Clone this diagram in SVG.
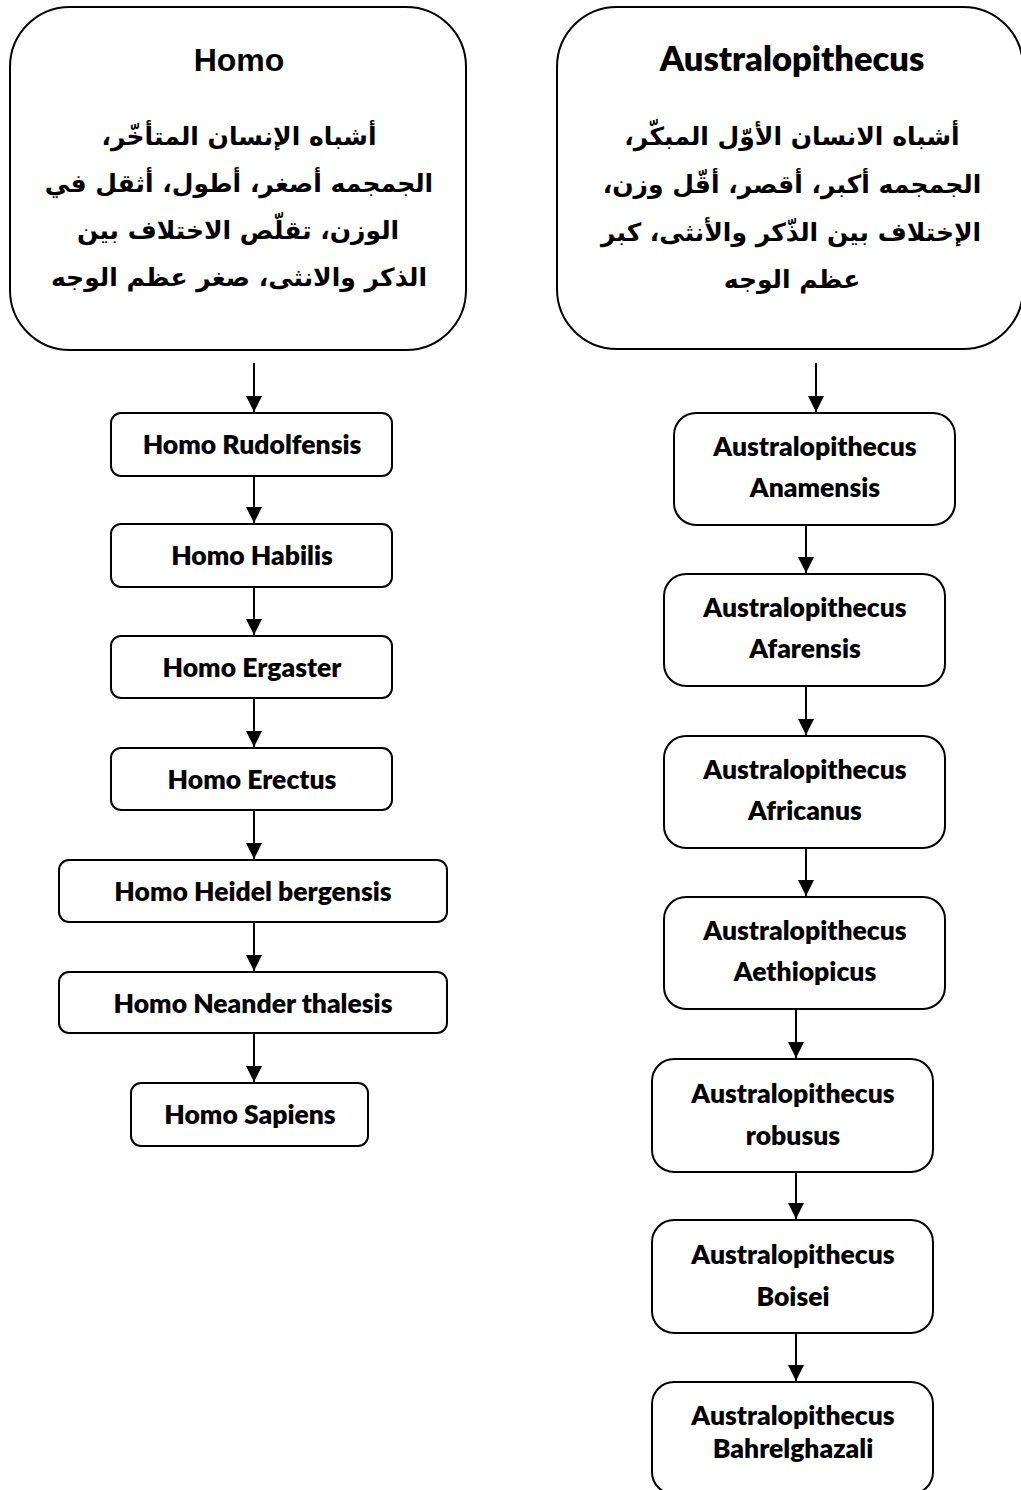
<svg xmlns="http://www.w3.org/2000/svg" width="1021" height="1490" viewBox="0 0 1021 1490">
<style>
.big{fill:#fff;stroke:#000;stroke-width:2}
.box{fill:#fff;stroke:#000;stroke-width:2}
.t{font-family:Lato,"Open Sans",sans-serif;font-weight:800;font-size:26.5px;fill:#000;text-anchor:middle}
.title{font-family:"Liberation Sans",Arial,sans-serif;font-weight:bold;font-size:32px;fill:#000;text-anchor:middle}
.title2{font-family:Lato,"Open Sans",sans-serif;font-weight:800;font-size:34.5px;fill:#000;text-anchor:middle}
.ar{font-family:"DejaVu Sans",sans-serif;font-weight:bold;font-size:25px;fill:#000;text-anchor:middle}
.c{stroke:#000;stroke-width:2;fill:none;marker-end:url(#ah)}
</style>
<defs>
<marker id="ah" markerUnits="userSpaceOnUse" markerWidth="16" markerHeight="16" viewBox="0 0 16 16" refX="16" refY="8" orient="auto">
<path d="M0,0 L16,8 L0,16 Z" fill="#000"/>
</marker>
</defs>
<rect width="1021" height="1490" fill="#fff"/>
<g id="connectors">
<line class="c" x1="254" y1="363" x2="254" y2="412"/>
<line class="c" x1="254" y1="476" x2="254" y2="523"/>
<line class="c" x1="254" y1="587" x2="254" y2="635"/>
<line class="c" x1="254" y1="698" x2="254" y2="747"/>
<line class="c" x1="254" y1="810" x2="254" y2="859"/>
<line class="c" x1="254" y1="922" x2="254" y2="971"/>
<line class="c" x1="254" y1="1033" x2="254" y2="1082"/>
<line class="c" x1="816" y1="363" x2="816" y2="412"/>
<line class="c" x1="806" y1="525" x2="806" y2="573"/>
<line class="c" x1="806" y1="686" x2="806" y2="735"/>
<line class="c" x1="806" y1="848" x2="806" y2="896"/>
<line class="c" x1="796" y1="1009" x2="796" y2="1058"/>
<line class="c" x1="796" y1="1172" x2="796" y2="1219"/>
<line class="c" x1="796" y1="1333" x2="796" y2="1381"/>
</g>
<g id="homo">
<rect class="big" x="10" y="7" width="456" height="343" rx="60" ry="60"/>
<text class="title" x="239" y="71">Homo</text>
<text class="ar" direction="rtl" x="239" y="145">أشباه الإنسان المتأخّر،</text>
<text class="ar" direction="rtl" x="239" y="192">الجمجمه أصغر، أطول، أثقل في</text>
<text class="ar" direction="rtl" x="238" y="239">الوزن، تقلّص الاختلاف بين</text>
<text class="ar" direction="rtl" x="239" y="286">الذكر والانثى، صغر عظم الوجه</text>
</g>
<g id="australopithecus">
<rect class="big" x="557" y="7" width="466" height="342" rx="60" ry="60"/>
<text class="title2" x="792" y="71">Australopithecus</text>
<text class="ar" direction="rtl" x="792" y="145">أشباه الانسان الأوّل المبكّر،</text>
<text class="ar" direction="rtl" x="792" y="193">الجمجمه أكبر، أقصر، أقّل وزن،</text>
<text class="ar" direction="rtl" x="791" y="241">الإختلاف بين الذّكر والأنثى، كبر</text>
<text class="ar" direction="rtl" x="792" y="288">عظم الوجه</text>
</g>
<g id="homo-rudolfensis"><rect class="box" x="111" y="413" width="281" height="63" rx="10"/><text class="t" x="252" y="454">Homo Rudolfensis</text></g>
<g id="homo-habilis"><rect class="box" x="111" y="524" width="281" height="63" rx="10"/><text class="t" x="252" y="565">Homo Habilis</text></g>
<g id="homo-ergaster"><rect class="box" x="111" y="636" width="281" height="62" rx="10"/><text class="t" x="252" y="677">Homo Ergaster</text></g>
<g id="homo-erectus"><rect class="box" x="111" y="748" width="281" height="62" rx="10"/><text class="t" x="252" y="789">Homo Erectus</text></g>
<g id="homo-heidelbergensis"><rect class="box" x="59" y="860" width="388" height="62" rx="10"/><text class="t" x="253" y="901">Homo Heidel bergensis</text></g>
<g id="homo-neanderthalesis"><rect class="box" x="59" y="972" width="388" height="61" rx="10"/><text class="t" x="253" y="1013">Homo Neander thalesis</text></g>
<g id="homo-sapiens"><rect class="box" x="131" y="1083" width="237" height="63" rx="10"/><text class="t" x="250" y="1124">Homo Sapiens</text></g>
<g id="a-anamensis"><rect class="box" x="674" y="413" width="281" height="112" rx="22"/><text class="t" x="815" y="456">Australopithecus</text><text class="t" x="815" y="497">Anamensis</text></g>
<g id="a-afarensis"><rect class="box" x="664" y="574" width="281" height="112" rx="22"/><text class="t" x="805" y="617">Australopithecus</text><text class="t" x="805" y="658">Afarensis</text></g>
<g id="a-africanus"><rect class="box" x="664" y="736" width="281" height="112" rx="22"/><text class="t" x="805" y="779">Australopithecus</text><text class="t" x="805" y="820">Africanus</text></g>
<g id="a-aethiopicus"><rect class="box" x="664" y="897" width="281" height="112" rx="22"/><text class="t" x="805" y="940">Australopithecus</text><text class="t" x="805" y="981">Aethiopicus</text></g>
<g id="a-robusus"><rect class="box" x="652" y="1059" width="281" height="113" rx="22"/><text class="t" x="793" y="1103">Australopithecus</text><text class="t" x="793" y="1145">robusus</text></g>
<g id="a-boisei"><rect class="box" x="652" y="1220" width="281" height="113" rx="22"/><text class="t" x="793" y="1264">Australopithecus</text><text class="t" x="793" y="1306">Boisei</text></g>
<g id="a-bahrelghazali"><rect class="box" x="652" y="1382" width="281" height="112" rx="22"/><text class="t" x="793" y="1425">Australopithecus</text><text class="t" x="793" y="1458">Bahrelghazali</text></g>
</svg>
